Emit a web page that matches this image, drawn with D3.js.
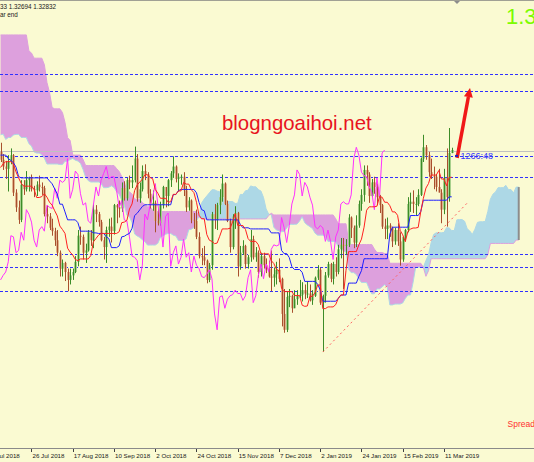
<!DOCTYPE html>
<html><head><meta charset="utf-8">
<script src="https://cdn.jsdelivr.net/npm/d3@7/dist/d3.min.js"></script>
<style>
html,body{margin:0;padding:0;background:#FAFAD2;overflow:hidden}
svg{display:block;font-family:"Liberation Sans",Arial,sans-serif}
</style></head><body>
<svg id="chart" width="534" height="462"></svg>
<script>
// ---- earlier bars (before the visible window), needed for the Ichimoku lookback ----
const preHigh = [1.4145,1.4200,1.4245,1.4220,1.4250,1.4280,1.4330,1.4345,1.4300,1.4340,
1.4360,1.4377,1.4290,1.4200,1.4150,1.4180,1.4230,1.4276,1.4218,1.4112,
1.4024,1.3892,1.3870,1.3850,1.3880,1.3848,1.3760,1.3626,1.3600,1.3470,
1.3465,1.3440,1.3455,1.3460,1.3445,1.3430,1.3420,1.3400,1.3390,1.3385,
1.3370,1.3360,1.3340,1.3330,1.3320,1.3310,1.3300,1.3290,1.3320,1.3310,
1.3340,1.3355,1.3365,1.3405,1.3440,1.3472,1.3440,1.3425,1.3400,1.3405,
1.3375,1.3290,1.3295,1.3265,1.3215,1.3265,1.3315,1.3305,1.3280,1.3245,
1.3135,1.3210,1.3195,1.3210,1.3230,1.3260,1.3305,1.3363];
const preLow = [1.4060,1.4080,1.4120,1.4150,1.4160,1.4200,1.4230,1.4270,1.4210,1.4250,
1.4290,1.4270,1.4170,1.4090,1.4060,1.4100,1.4140,1.4180,1.4090,1.4000,
1.3900,1.3780,1.3790,1.3760,1.3790,1.3720,1.3620,1.3520,1.3480,1.3400,
1.3390,1.3360,1.3380,1.3395,1.3370,1.3350,1.3340,1.3310,1.3300,1.3290,
1.3280,1.3270,1.3255,1.3250,1.3240,1.3230,1.3215,1.3210,1.3204,1.3250,
1.3270,1.3260,1.3300,1.3290,1.3380,1.3400,1.3385,1.3365,1.3360,1.3310,
1.3205,1.3220,1.3230,1.3150,1.3145,1.3100,1.3240,1.3225,1.3200,1.3105,
1.3049,1.3080,1.3100,1.3135,1.3185,1.3185,1.3215,1.3255];

// ---- visible daily bars, 10 Jul 2018 .. 14 Mar 2019 ----
const open = [1.3275,1.3240,1.3210,1.3200,1.3230,1.3260,1.3095,1.3030,1.2975,1.3130,
1.3110,1.3150,1.3160,1.3110,1.3105,1.3130,1.3120,1.3115,1.3000,1.2990,
1.2940,1.2925,1.2885,1.2830,1.2760,1.2785,1.2745,1.2710,1.2730,1.2745,
1.2790,1.2905,1.2900,1.2830,1.2840,1.2920,1.2885,1.3020,1.3000,1.2965,
1.2885,1.2855,1.2930,1.2945,1.2925,1.3040,1.3030,1.3025,1.3115,1.3070,
1.3150,1.3140,1.3150,1.3245,1.3070,1.3110,1.3190,1.3175,1.3090,1.3040,
1.3050,1.2970,1.2960,1.3040,1.3120,1.3080,1.3150,1.3180,1.3210,1.3155,
1.3165,1.3165,1.3105,1.3030,1.3060,1.2975,1.2970,1.2900,1.2815,1.2810,
1.2795,1.2710,1.2775,1.3000,1.2975,1.3040,1.3075,1.3135,1.3045,1.2970,
1.2855,1.2990,1.3005,1.2770,1.2830,1.2860,1.2780,1.2810,1.2890,1.2810,
1.2830,1.2745,1.2815,1.2775,1.2760,1.2725,1.2720,1.2735,1.2755,1.2715,
1.2560,1.2490,1.2635,1.2640,1.2585,1.2625,1.2640,1.2645,1.2665,1.2650,
1.2650,1.2620,1.2640,1.2720,1.2755,1.2610,1.2640,1.2730,1.2780,1.2715,
1.2780,1.2745,1.2845,1.2865,1.2860,1.2865,1.2985,1.2940,1.2875,1.2950,
1.3045,1.3085,1.3195,1.3175,1.3080,1.3140,1.3120,1.3075,1.3040,1.2945,
1.2935,1.2950,1.2940,1.2880,1.2930,1.2880,1.2800,1.2900,1.2930,1.3045,
1.3055,1.3045,1.3045,1.3085,1.3245,1.3295,1.3260,1.3185,1.3170,1.3165,
1.3120,1.3095,1.3020,1.3160,1.3075,1.3270];
const high = [1.3315,1.3265,1.3235,1.3260,1.3290,1.3265,1.3110,1.3060,1.3150,1.3150,
1.3190,1.3165,1.3175,1.3125,1.3145,1.3170,1.3140,1.3125,1.3040,1.3005,
1.2980,1.2940,1.2930,1.2840,1.2800,1.2790,1.2760,1.2760,1.2760,1.2815,
1.2930,1.2945,1.2910,1.2870,1.2930,1.2930,1.3045,1.3040,1.3010,1.2975,
1.2900,1.2945,1.2980,1.2985,1.3045,1.3045,1.3060,1.3140,1.3145,1.3160,
1.3170,1.3215,1.3298,1.3265,1.3140,1.3215,1.3220,1.3185,1.3110,1.3105,
1.3060,1.3025,1.3055,1.3125,1.3120,1.3155,1.3190,1.3255,1.3215,1.3180,
1.3175,1.3185,1.3125,1.3075,1.3065,1.3005,1.3020,1.2920,1.2850,1.2860,
1.2800,1.2785,1.3010,1.3045,1.3050,1.3110,1.3175,1.3140,1.3060,1.2980,
1.3000,1.3035,1.3010,1.2860,1.2885,1.2865,1.2820,1.2930,1.2905,1.2855,
1.2840,1.2830,1.2830,1.2805,1.2795,1.2840,1.2765,1.2790,1.2805,1.2720,
1.2670,1.2660,1.2670,1.2645,1.2665,1.2665,1.2710,1.2700,1.2690,1.2705,
1.2690,1.2665,1.2725,1.2775,1.2765,1.2645,1.2745,1.2790,1.2785,1.2790,
1.2810,1.2865,1.2895,1.2895,1.2890,1.3000,1.2990,1.2950,1.2995,1.3060,
1.3110,1.3215,1.3215,1.3185,1.3155,1.3165,1.3135,1.3085,1.3045,1.2980,
1.2985,1.2960,1.2945,1.2940,1.2960,1.2920,1.2900,1.2935,1.3075,1.3095,
1.3105,1.3075,1.3110,1.3250,1.3350,1.3305,1.3275,1.3245,1.3210,1.3175,
1.3200,1.3110,1.3200,1.3290,1.3380,1.3293];
const low = [1.3230,1.3195,1.3155,1.3100,1.3220,1.3080,1.3010,1.2957,1.2965,1.3085,
1.3100,1.3100,1.3100,1.3075,1.3080,1.3100,1.3085,1.2990,1.2960,1.2930,
1.2905,1.2860,1.2815,1.2725,1.2725,1.2705,1.2660,1.2690,1.2710,1.2740,
1.2770,1.2865,1.2800,1.2785,1.2835,1.2860,1.2850,1.2965,1.2945,1.2880,
1.2800,1.2785,1.2900,1.2875,1.2910,1.2960,1.2985,1.3010,1.3060,1.3060,
1.3110,1.3115,1.3140,1.3055,1.3050,1.3100,1.3150,1.3070,1.3025,1.3015,
1.2920,1.2950,1.2950,1.3025,1.3030,1.3035,1.3120,1.3160,1.3140,1.3100,
1.3130,1.3080,1.3010,1.3015,1.2960,1.2935,1.2890,1.2805,1.2775,1.2775,
1.2695,1.2700,1.2755,1.2935,1.2930,1.3000,1.3055,1.3040,1.2965,1.2830,
1.2845,1.2935,1.2725,1.2755,1.2820,1.2760,1.2760,1.2790,1.2800,1.2790,
1.2720,1.2725,1.2760,1.2740,1.2720,1.2660,1.2680,1.2690,1.2700,1.2505,
1.2477,1.2480,1.2590,1.2565,1.2585,1.2600,1.2630,1.2615,1.2625,1.2630,
1.2615,1.2600,1.2635,1.2710,1.2600,1.2392,1.2610,1.2720,1.2700,1.2690,
1.2725,1.2735,1.2805,1.2670,1.2820,1.2855,1.2895,1.2850,1.2855,1.2940,
1.3015,1.3055,1.3125,1.3050,1.3075,1.3090,1.3040,1.3005,1.2935,1.2890,
1.2890,1.2900,1.2855,1.2865,1.2860,1.2773,1.2790,1.2880,1.2920,1.3010,
1.3005,1.2995,1.3035,1.3080,1.3230,1.3240,1.3165,1.3155,1.3110,1.3100,
1.3095,1.2960,1.3000,1.2945,1.3055,1.3269];
const close = [1.3240,1.3210,1.3200,1.3230,1.3260,1.3095,1.3030,1.2975,1.3130,1.3110,
1.3150,1.3160,1.3110,1.3105,1.3130,1.3120,1.3115,1.3000,1.2990,1.2940,
1.2925,1.2885,1.2830,1.2760,1.2785,1.2745,1.2710,1.2730,1.2745,1.2790,
1.2905,1.2900,1.2830,1.2840,1.2920,1.2885,1.3020,1.3000,1.2965,1.2885,
1.2855,1.2930,1.2945,1.2925,1.3040,1.3030,1.3025,1.3115,1.3070,1.3150,
1.3140,1.3150,1.3245,1.3070,1.3110,1.3190,1.3175,1.3090,1.3040,1.3050,
1.2970,1.2960,1.3040,1.3120,1.3080,1.3150,1.3180,1.3210,1.3155,1.3165,
1.3165,1.3105,1.3030,1.3060,1.2975,1.2970,1.2900,1.2815,1.2810,1.2795,
1.2710,1.2775,1.3000,1.2975,1.3040,1.3075,1.3135,1.3045,1.2970,1.2855,
1.2990,1.3005,1.2770,1.2830,1.2860,1.2780,1.2810,1.2890,1.2810,1.2830,
1.2745,1.2815,1.2775,1.2760,1.2725,1.2720,1.2735,1.2755,1.2715,1.2560,
1.2490,1.2635,1.2640,1.2585,1.2625,1.2640,1.2645,1.2665,1.2650,1.2650,
1.2620,1.2640,1.2720,1.2755,1.2610,1.2640,1.2730,1.2780,1.2715,1.2780,
1.2745,1.2845,1.2865,1.2860,1.2865,1.2985,1.2940,1.2875,1.2950,1.3045,
1.3085,1.3195,1.3175,1.3080,1.3140,1.3120,1.3075,1.3040,1.2945,1.2935,
1.2950,1.2940,1.2880,1.2930,1.2880,1.2800,1.2900,1.2930,1.3045,1.3055,
1.3045,1.3045,1.3085,1.3245,1.3295,1.3260,1.3185,1.3170,1.3165,1.3120,
1.3095,1.3020,1.3160,1.3075,1.3270,1.3283];

// ---- axis labels ----
const tickLabels = ["4 Jul 2018","26 Jul 2018","17 Aug 2018","10 Sep 2018","2 Oct 2018","24 Oct 2018","15 Nov 2018","7 Dec 2018","2 Jan 2019","24 Jan 2019","15 Feb 2019","11 Mar 2019"];
const tickDates  = ["2018-07-04","2018-07-26","2018-08-17","2018-09-10","2018-10-02","2018-10-24","2018-11-15","2018-12-07","2019-01-02","2019-01-24","2019-02-15","2019-03-11"];
const holidays = ["2018-12-25","2019-01-01"];

// ---- drawn objects ----
const levels = [1.3618, 1.3543, 1.3257, 1.3164, 1.2824, 1.2767, 1.2661];
const trendBars = [125, 181], trendPrices = [1.2392, 1.3049];
const arrowBars = [177.1, 182.1], arrowPrices = [1.3248, 1.3556];
const timerText = "1266:48";
const headerLines = ["33 1.32694 1.32832", "ar end"];
const bigPrice = "1.32832";

// ================= drawing =================
const W = 534, Ht = 462, plotBottom = 448;
const N = close.length, P = preHigh.length;
const fmt = d3.utcFormat("%Y-%m-%d");
const allDates = d3.utcDay.range(new Date(Date.UTC(2018,2,22)), new Date(Date.UTC(2019,2,15)))
  .filter(d => d.getUTCDay() % 6 !== 0).map(fmt).filter(s => !holidays.includes(s));
const first = allDates.indexOf("2018-07-10");

const xs = d3.scaleLinear().domain([0, 207]).range([0.56, 0.56 + 207 * 2.578]);
const ys = d3.scaleLinear().domain([1.19776, 1.39445]).range([446, 0]);

const svg = d3.select("#chart");
svg.append("rect").attr("width", W).attr("height", Ht).attr("fill", "#FAFAD2");
svg.append("defs").append("clipPath").attr("id", "plot")
  .append("rect").attr("x", 0).attr("y", 1).attr("width", W).attr("height", plotBottom - 1);
const g = svg.append("g").attr("clip-path", "url(#plot)");

// Ichimoku
const allH = preHigh.concat(high), allL = preLow.concat(low);
function mid(k, n) {
  let hh = -Infinity, ll = Infinity;
  for (let m = Math.max(0, k - n + 1); m <= k; m++) { hh = Math.max(hh, allH[m]); ll = Math.min(ll, allL[m]); }
  return (hh + ll) / 2;
}
const tenkan = d3.range(N).map(i => mid(i + P, 9));
const kijun = d3.range(N).map(i => mid(i + P, 26));
const cloud = d3.range(N + 26).map(c => { const j = c - 26 + P; return { i: c, a: (mid(j, 9) + mid(j, 26)) / 2, b: mid(j, 52) }; });

// cloud segments
const segs = []; let cur = null;
cloud.forEach((d, k) => {
  const s = d.a >= d.b ? 1 : -1;
  if (cur && s !== cur.sign) {
    const p = cloud[k - 1]; const d0 = p.a - p.b, d1 = d.a - d.b; const t = d0 / (d0 - d1);
    const xi = p.i + t, yi = p.a + t * (d.a - p.a);
    cur.pts.push({ i: xi, a: yi, b: yi }); segs.push(cur);
    cur = { sign: s, pts: [{ i: xi, a: yi, b: yi }] };
  }
  if (!cur) cur = { sign: s, pts: [] };
  cur.pts.push(d);
});
segs.push(cur);
const area = d3.area().x(d => xs(d.i)).y0(d => ys(d.b)).y1(d => ys(d.a));
g.selectAll(".cloud").data(segs).join("path")
  .attr("d", d => area(d.pts)).attr("fill", d => d.sign > 0 ? "#ADD8E6" : "#DDA0DD");
g.append("path").attr("d", d3.line().x(d => xs(d.i)).y(d => ys(d.a))(cloud))
  .attr("fill", "none").attr("stroke", "#ADD8E6").attr("stroke-width", 1);
g.append("path").attr("d", d3.line().x(d => xs(d.i)).y(d => ys(d.b))(cloud))
  .attr("fill", "none").attr("stroke", "#DDA0DD").attr("stroke-width", 1);
const lastC = cloud[cloud.length - 1];
g.append("line").attr("x1", xs(lastC.i)).attr("x2", xs(lastC.i))
  .attr("y1", ys(lastC.a)).attr("y2", ys(lastC.b)).attr("stroke", "#8C8C8C").attr("stroke-width", 2);

// levels
g.selectAll(".lvl").data(levels).join("line")
  .attr("x1", 0).attr("x2", W).attr("y1", d => Math.round(ys(d)) + 0.5).attr("y2", d => Math.round(ys(d)) + 0.5)
  .attr("stroke", "#3030FF").attr("stroke-dasharray", "3,2").attr("stroke-width", 1);
// bid line
g.append("line").attr("x1", 0).attr("x2", W)
  .attr("y1", Math.round(ys(close[N - 1])) + 1.5).attr("y2", Math.round(ys(close[N - 1])) + 1.5)
  .attr("stroke", "#C0C0C0").attr("stroke-width", 1);

// candles
const idx = d3.range(N);
const isUp = i => close[i] >= open[i];
g.selectAll(".body").data(idx).join("rect")
  .attr("x", i => Math.round(xs(i)) - 1).attr("width", 3)
  .attr("y", i => ys(Math.max(open[i], close[i])))
  .attr("height", i => Math.max(1, Math.abs(ys(open[i]) - ys(close[i]))))
  .attr("fill", i => isUp(i) ? "#A8D08C" : "#E2B48E");
g.selectAll(".wick").data(idx).join("line")
  .attr("x1", i => Math.round(xs(i)) + 0.5).attr("x2", i => Math.round(xs(i)) + 0.5)
  .attr("y1", i => ys(high[i])).attr("y2", i => ys(low[i]))
  .attr("stroke", i => isUp(i) ? "#3C8C28" : "#A8502E").attr("stroke-width", 1);

// indicator lines
const lineIdx = d3.line().x(d => xs(d[0])).y(d => ys(d[1]));
g.append("path").attr("d", lineIdx(d3.range(26, N).map(j => [j - 26, close[j]])))
  .attr("fill", "none").attr("stroke", "#FF30FF").attr("stroke-width", 1);
g.append("path").attr("d", lineIdx(idx.map(i => [i, kijun[i]])))
  .attr("fill", "none").attr("stroke", "#2020FF").attr("stroke-width", 1);
g.append("path").attr("d", lineIdx(idx.map(i => [i, tenkan[i]])))
  .attr("fill", "none").attr("stroke", "#FF2020").attr("stroke-width", 1);

// trend line
g.append("line").attr("x1", xs(trendBars[0])).attr("y1", ys(trendPrices[0]))
  .attr("x2", xs(trendBars[1])).attr("y2", ys(trendPrices[1]))
  .attr("stroke", "#FF6060").attr("stroke-dasharray", "2,3").attr("stroke-width", 1);

// arrow
const ax0 = xs(arrowBars[0]), ay0 = ys(arrowPrices[0]), ax1 = xs(arrowBars[1]), ay1 = ys(arrowPrices[1]);
const ang = Math.atan2(ay1 - ay0, ax1 - ax0);
const hl = 9, hw = 4.5;
const bx = ax1 - hl * Math.cos(ang), by = ay1 - hl * Math.sin(ang);
g.append("line").attr("x1", ax0).attr("y1", ay0).attr("x2", bx).attr("y2", by)
  .attr("stroke", "#F01818").attr("stroke-width", 3.5);
g.append("path").attr("d", `M${ax1},${ay1}L${bx - hw * Math.sin(ang)},${by + hw * Math.cos(ang)}L${bx + hw * Math.sin(ang)},${by - hw * Math.cos(ang)}Z`)
  .attr("fill", "#F01818");

// timer label
g.append("rect").attr("x", xs(176.3)).attr("y", ys(levels[2]) - 1).attr("width", 3).attr("height", 2).attr("fill", "#2020C0");
g.append("text").attr("x", xs(178.4)).attr("y", ys(levels[2]) + 3.5).text(timerText)
  .attr("font-size", 9).attr("fill", "#3434FF");

// watermark
svg.append("text").attr("x", 222).attr("y", 130).text("blogngoaihoi.net")
  .attr("font-size", 20.4).attr("fill", "#E8141E");

// header
svg.append("line").attr("x1", 0).attr("x2", W).attr("y1", 0.5).attr("y2", 0.5).attr("stroke", "#A0A094");
svg.append("path").attr("d", "M454,1L460,1L457,4Z").attr("fill", "#8C8C8C");
svg.selectAll(".hdr").data(headerLines).join("text")
  .attr("x", 0).attr("y", (d, i) => 9 + i * 8).text(d => d).attr("font-size", 6.3).attr("fill", "#202020");
svg.append("text").attr("x", 506).attr("y", 23.5).text(bigPrice).attr("font-size", 22).attr("fill", "#7CFC00");
svg.append("text").attr("x", 507.5).attr("y", 427).text("Spread").attr("font-size", 8.5).attr("fill", "#FF3030");

// x axis
svg.append("line").attr("x1", 0).attr("x2", W).attr("y1", 448.5).attr("y2", 448.5).attr("stroke", "#8A8A8A");
const ticks = tickLabels.map((t, k) => ({ t, i: allDates.indexOf(tickDates[k]) - first }));
svg.selectAll(".tk").data(ticks).join("line")
  .attr("x1", d => Math.round(xs(d.i)) + 0.5).attr("x2", d => Math.round(xs(d.i)) + 0.5)
  .attr("y1", 449).attr("y2", 452).attr("stroke", "#404040");
svg.selectAll(".tl").data(ticks).join("text")
  .attr("x", d => xs(d.i) + 1).attr("y", 457.5).text(d => d.t).attr("font-size", 6.2).attr("fill", "#202020");
</script></body></html>
